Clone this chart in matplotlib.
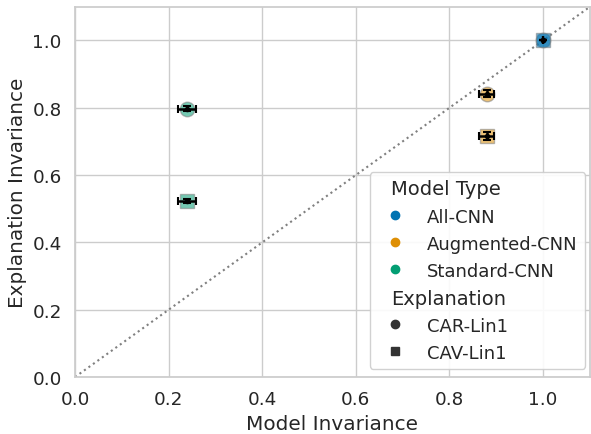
import matplotlib
matplotlib.use("Agg")
import matplotlib.pyplot as plt
from matplotlib.lines import Line2D
from matplotlib.offsetbox import HPacker
import seaborn as sns
import pandas as pd

# values
model_types = ["All-CNN", "All-CNN", "Augmented-CNN", "Augmented-CNN", "Standard-CNN", "Standard-CNN"]
explanations = ["CAR-Lin1", "CAV-Lin1", "CAR-Lin1", "CAV-Lin1", "CAR-Lin1", "CAV-Lin1"]
model_inv = [1.0, 1.0, 0.88, 0.88, 0.24, 0.24]
model_inv_err = [0.0, 0.0, 0.016, 0.016, 0.019, 0.019]
expl_inv = [1.0, 1.0, 0.842, 0.716, 0.797, 0.523]
expl_inv_err = [0.0, 0.0, 0.010, 0.012, 0.008, 0.006]

hue_order = ["All-CNN", "Augmented-CNN", "Standard-CNN"]
style_order = ["CAR-Lin1", "CAV-Lin1"]
subtitles = ("Model Type", "Explanation")

df = pd.DataFrame({
    "Model Invariance": model_inv,
    "Explanation Invariance": expl_inv,
    "Model Type": model_types,
    "Explanation": explanations,
})

sns.set_theme(style="whitegrid", font_scale=1.2)
colors = sns.color_palette("colorblind", 3)
marker_map = {"CAR-Lin1": "o", "CAV-Lin1": "s"}

fig, ax = plt.subplots(figsize=(5.91, 4.35), dpi=100)
fig.subplots_adjust(left=0.127, right=0.998, bottom=0.131, top=0.982)

ax.plot([0, 1.1], [0, 1.1], ls=":", color="gray", lw=1.5, zorder=1)
for i, row in df.iterrows():
    c = colors[hue_order.index(row["Model Type"])]
    ax.scatter(row["Model Invariance"], row["Explanation Invariance"],
               s=110, color=c, alpha=0.55, marker=marker_map[row["Explanation"]],
               edgecolor="gray", linewidth=1, zorder=2)
ax.errorbar(df["Model Invariance"], df["Explanation Invariance"],
            xerr=model_inv_err, yerr=expl_inv_err, fmt="o", ms=3,
            color="black", ecolor="black", elinewidth=1.8, capsize=3, capthick=1.5,
            zorder=3)

ax.set_xlim(0, 1.1)
ax.set_ylim(0, 1.1)
ax.set_xticks([0.0, 0.2, 0.4, 0.6, 0.8, 1.0])
ax.set_yticks([0.0, 0.2, 0.4, 0.6, 0.8, 1.0])
ax.set_xlabel("Model Invariance")
ax.set_ylabel("Explanation Invariance")

# legend with subtitle entries, seaborn style
blank = Line2D([], [], linestyle="", marker=None)
handles = [blank]
labels = ["Model Type"]
for name, c in zip(hue_order, colors):
    handles.append(Line2D([], [], linestyle="", marker="o", color=c, ms=6))
    labels.append(name)
handles.append(blank)
labels.append("Explanation")
for name in style_order:
    handles.append(Line2D([], [], linestyle="", marker=marker_map[name], color="#333333", ms=6))
    labels.append(name)

leg = ax.legend(handles, labels, loc="lower left", bbox_to_anchor=(0.572, 0.022),
                borderaxespad=0, framealpha=0.9, fontsize=13)
for t in leg.get_texts():
    if t.get_text() in subtitles:
        t.set_fontsize(14)
for hp in leg.findobj(HPacker):
    kids = hp.get_children()
    if len(kids) == 2 and hasattr(kids[1], "get_children"):
        inner = kids[1].get_children()
        if inner and hasattr(inner[0], "get_text") and inner[0].get_text() in subtitles:
            kids[0].set_width(0)

plt.savefig("out.png", dpi=100)
